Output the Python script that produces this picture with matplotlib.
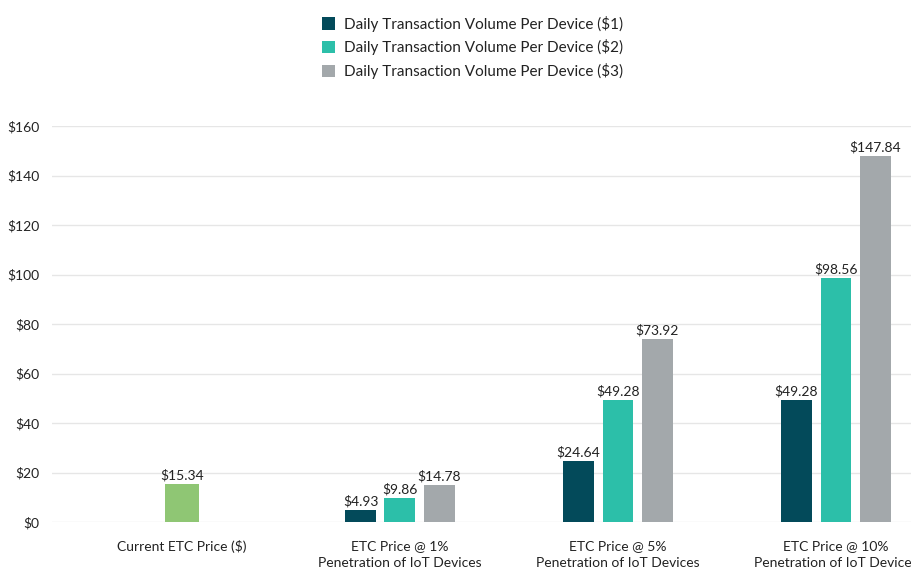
import matplotlib
matplotlib.use("Agg")
import matplotlib.pyplot as plt
from matplotlib.patches import Patch
import numpy as np

plt.rcParams['font.family'] = ['Lato', 'DejaVu Sans']

categories = ["Current ETC Price ($)", "ETC Price @ 1%\nPenetration of IoT Devices",
              "ETC Price @ 5%\nPenetration of IoT Devices", "ETC Price @ 10%\nPenetration of IoT Devices"]
current_price = [15.34]
series_names = ["Daily Transaction Volume Per Device ($1)",
                "Daily Transaction Volume Per Device ($2)",
                "Daily Transaction Volume Per Device ($3)"]
vol1 = [4.93, 24.64, 49.28]
vol2 = [9.86, 49.28, 98.56]
vol3 = [14.78, 73.92, 147.84]
yticks = [0, 20, 40, 60, 80, 100, 120, 140, 160]

colors = ["#034a5a", "#2cbfa9", "#a3a8ab"]
green = "#8fc674"

fig = plt.figure(figsize=(9.11, 5.68), dpi=100)
ax = fig.add_axes([52/911, 46/568, 1 - 52/911, 396/568])

w = 0.142
off = 0.181
x = np.arange(len(categories))

b = ax.bar([0], current_price, width=0.152, color=green, zorder=3)
for rect, v in zip(b, current_price):
    ax.text(rect.get_x() + rect.get_width()/2, v + 1.0, f"${v:.2f}", ha='center', va='bottom',
            fontsize=10, color='#222222')

for i, (vals, c) in enumerate(zip([vol1, vol2, vol3], colors)):
    xs = x[1:] + (i - 1) * off
    bars = ax.bar(xs, vals, width=w, color=c, zorder=3)
    for rect, v in zip(bars, vals):
        ax.text(rect.get_x() + rect.get_width()/2, v + 1.0, f"${v:.2f}", ha='center', va='bottom',
                fontsize=10, color='#222222', clip_on=False)

ax.set_xlim(-0.596, 3.344)
ax.set_ylim(0, 160)
ax.set_yticks(yticks)
ax.set_yticklabels([f"${t}" for t in yticks])
ax.set_xticks(x)
ax.set_xticklabels(categories, linespacing=1.45)
ax.tick_params(axis='y', length=0, pad=9, labelsize=10, labelcolor='#222222')
ax.tick_params(axis='x', length=0, pad=13, labelsize=10, labelcolor='#222222')
for s in ax.spines.values():
    s.set_visible(False)
ax.grid(axis='y', color='#e6e6e6', linewidth=1, zorder=0)
ax.set_axisbelow(True)

handles = [Patch(facecolor=c, edgecolor='none') for c in colors]
fig.legend(handles, series_names, loc='upper left', bbox_to_anchor=(308/911, 1 - 2/568),
           frameon=False, fontsize=11, handlelength=0.85, handleheight=0.85,
           handletextpad=0.6, labelspacing=0.5, labelcolor='#222222')

fig.savefig("out.png", dpi=100)
